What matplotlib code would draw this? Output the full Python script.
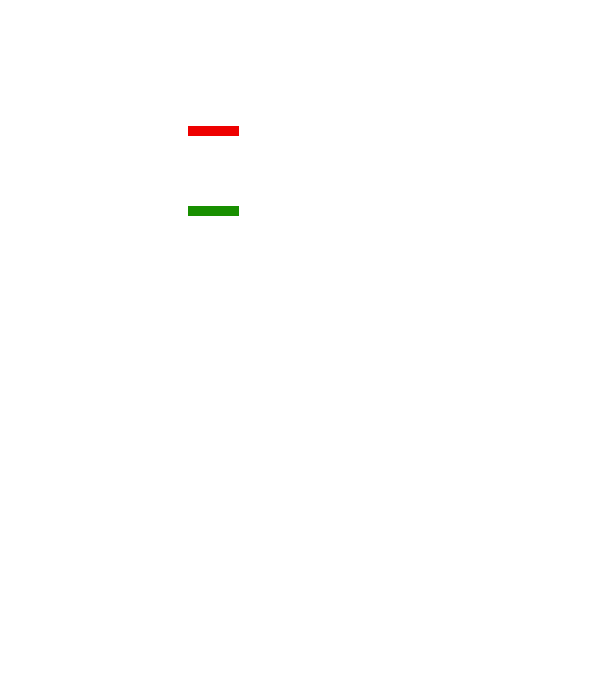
import matplotlib
matplotlib.use("Agg")
import matplotlib.pyplot as plt

categories = ["A", "B"]
values = [5.0, 5.0]
colors = ["#ee0000", "#188f00"]

W, H = 605, 680
fig = plt.figure(figsize=(W / 100, H / 100), dpi=100)
fig.patch.set_facecolor("white")

# axes: left edge at x=188px, width 408px; top at y=90.8px, height 160px
left_px, width_px = 188, 408
top_px, height_px = 90.8, 160
ax = fig.add_axes([left_px / W, (H - top_px - height_px) / H, width_px / W, height_px / H])
ax.barh(range(len(categories)), values, height=0.12, color=colors, edgecolor="none")
ax.set_xlim(0, 40)
ax.set_ylim(1.5, -0.5)
ax.axis("off")

fig.savefig("out.png", dpi=100, facecolor="white")
